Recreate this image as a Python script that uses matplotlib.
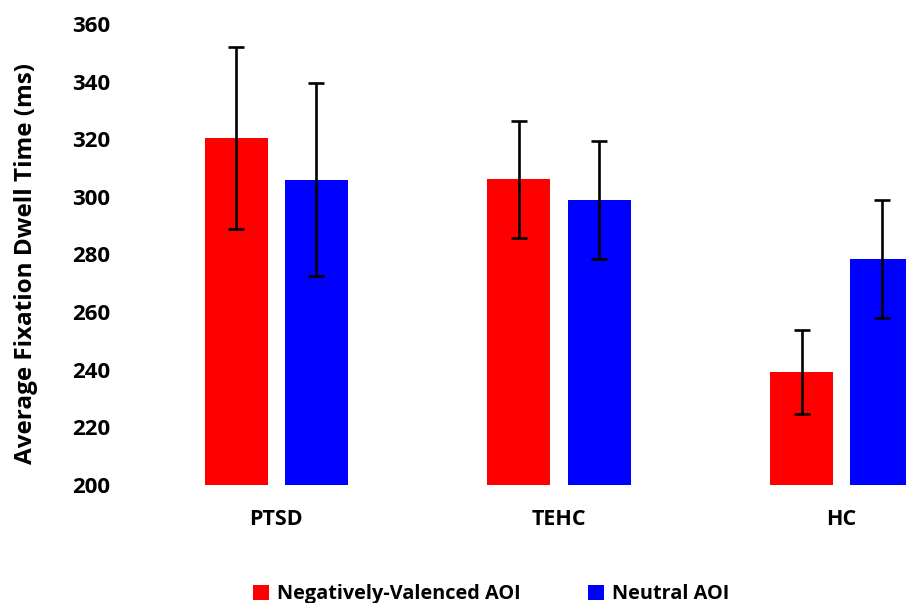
import matplotlib.pyplot as plt
import numpy as np

groups = ["PTSD", "TEHC", "HC"]
negative = [320.5, 306.2, 239.3]
negative_err = [31.5, 20.3, 14.5]
neutral = [306.0, 299.0, 278.4]
neutral_err = [33.5, 20.5, 20.5]

plt.rcParams['font.family'] = ['Open Sans', 'DejaVu Sans']
plt.rcParams['font.weight'] = 'bold'

fig = plt.figure(figsize=(9.06, 6.03), dpi=100)
# l'area del grafico esce a destra, come nell'originale tagliato
ax = fig.add_axes([135 / 906, 118 / 603, 848 / 906, 461 / 603])

x = np.arange(len(groups))
w = 0.223
off = 0.1416
err_style = dict(ecolor='black', elinewidth=1.9, capsize=5.5, capthick=1.9)

ax.bar(x - off, negative, w, bottom=0, color='#ff0000',
       yerr=negative_err, error_kw=err_style, label='Negatively-Valenced AOI')
ax.bar(x + off, neutral, w, bottom=0, color='#0000ff',
       yerr=neutral_err, error_kw=err_style, label='Neutral AOI')

ax.set_xlim(-0.5, 2.5)
ax.set_ylim(200, 360)
ax.set_yticks(np.arange(200, 361, 20))
ax.set_xticks(x)
ax.set_xticklabels(groups)

for side in ['top', 'right', 'bottom', 'left']:
    ax.spines[side].set_visible(False)
ax.tick_params(axis='both', length=0)
ax.tick_params(axis='x', pad=17, labelsize=15.5)
ax.tick_params(axis='y', pad=18, labelsize=16)
for lab in ax.get_xticklabels() + ax.get_yticklabels():
    lab.set_fontweight('bold')

ax.set_ylabel('Average Fixation Dwell Time (ms)', fontsize=17.5,
              fontweight='bold')
ax.yaxis.set_label_coords(-0.114, 0.48)

fig.legend(loc='center', bbox_to_anchor=(491 / 906, 1 - 594 / 603), ncol=2,
           frameon=False, handlelength=0.8, handleheight=0.8,
           handletextpad=0.4, columnspacing=3.4,
           prop={'weight': 'bold', 'size': 14.3})

fig.savefig('out.png', dpi=100)
